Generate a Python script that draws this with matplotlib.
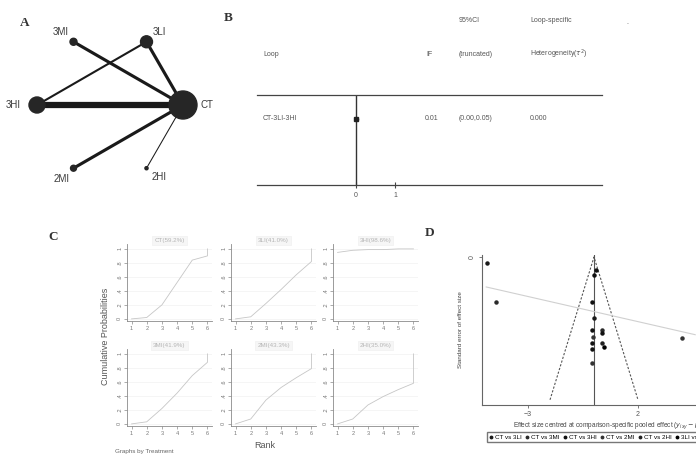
import numpy as np
import matplotlib
matplotlib.use("Agg")
import matplotlib.pyplot as plt
from matplotlib.patches import Circle

plt.rcParams['font.family'] = ['Liberation Sans', 'DejaVu Sans']

W, H = 696, 455

# ---- A: treatment network ----
nodes = ['CT', '3LI', '3MI', '3HI', '2MI', '2HI']
node_n = [400, 73, 25, 131, 18, 5]          # participants per arm
edges = [('3HI', 'CT', 6), ('3MI', 'CT', 3), ('3LI', 'CT', 3),
         ('3LI', '3HI', 2), ('2MI', 'CT', 3), ('2HI', 'CT', 1)]  # number of studies

# ---- B: inconsistency loop ----
loop_name = 'CT-3LI-3HI'
loop_if = 0.01
loop_ci = (0.00, 0.05)
loop_tau2 = 0.000

# ---- C: cumulative ranking curves ----
rank_titles = ['CT(59.2%)', '3LI(41.0%)', '3HI(98.6%)',
               '3MI(41.9%)', '2MI(43.3%)', '2HI(35.0%)']
ranks = [1, 2, 3, 4, 5, 6, 6]
cum_prob = [
    [0.00, 0.02, 0.20, 0.52, 0.84, 0.90, 1.00],
    [0.00, 0.03, 0.22, 0.42, 0.63, 0.82, 1.00],
    [0.95, 0.98, 0.99, 0.99, 1.00, 1.00, 1.00],
    [0.00, 0.03, 0.22, 0.44, 0.69, 0.88, 1.00],
    [0.00, 0.07, 0.34, 0.52, 0.66, 0.79, 1.00],
    [0.00, 0.07, 0.27, 0.39, 0.49, 0.58, 1.00],
]

# ---- D: comparison-adjusted funnel plot ----
comparisons = ['CT vs 3LI', 'CT vs 3MI', 'CT vs 3HI', 'CT vs 2MI', 'CT vs 2HI', '3LI vs 3HI']
eff = [-4.88, -4.45, 3.99, 0.09, 0.00, -0.08, 0.01, -0.08, 0.35, 0.35,
       -0.03, -0.08, 0.35, 0.47, -0.08, -0.08]
se = [0.045, 0.32, 0.58, 0.093, 0.129, 0.319, 0.438, 0.521, 0.521, 0.541,
      0.574, 0.612, 0.616, 0.641, 0.659, 0.759]
grp = [0, 1, 3, 2, 2, 2, 0, 2, 1, 2, 3, 2, 4, 5, 2, 3]
se_max = 1.02
fit_x = [-4.9, 4.6]
fit_se = [0.214, 0.555]


def box(x0, y0, x1, y1):
    return [x0 / W, 1 - y1 / H, (x1 - x0) / W, (y1 - y0) / H]


def ftext(x, y, s, **kw):
    fig.text(x / W, 1 - y / H, s, **kw)


fig = plt.figure(figsize=(W / 100, H / 100), dpi=100)
letter = dict(family='Liberation Serif', weight='bold', fontsize=9.5,
              color='#333333', va='center', ha='left')

# ================= A =================
ftext(20, 23, 'A', **letter)
axA = fig.add_axes(box(0, 0, 220, 210))
axA.set_xlim(0, 220)
axA.set_ylim(210, 0)
axA.axis('off')
cx, cy, r = 110, 105, 73
pos = {}
for k, name in enumerate(nodes):
    a = np.deg2rad(60 * k)
    pos[name] = (cx + r * np.cos(a), cy - r * np.sin(a))
for a_, b_, k in edges:
    (x0, y0), (x1, y1) = pos[a_], pos[b_]
    axA.plot([x0, x1], [y0, y1], color='#1a1a1a', lw=0.75 * k,
             solid_capstyle='butt', zorder=1)
n_max = max(node_n)
for name, n in zip(nodes, node_n):
    rad = 14 * np.sqrt(n / n_max)
    axA.add_patch(Circle(pos[name], rad, color='#262626', zorder=2))
lab_off = {'CT': (24, 0), '3LI': (13, -10), '3MI': (-13, -10),
           '3HI': (-24, 0), '2MI': (-12, 11), '2HI': (13, 9)}
for name in nodes:
    dx, dy = lab_off[name]
    x, y = pos[name]
    axA.text(x + dx, y + dy, name, fontsize=7, color='#3a3a3a',
             ha='center', va='center')

# ================= B =================
ftext(224, 18, 'B', **letter)
tB = dict(fontsize=5, color='#555555', va='center', ha='left')
ftext(459, 21, '95%CI', **tB)
ftext(530, 21, 'Loop-specific', **tB)
ftext(626, 22, '.', **tB)
ftext(263, 54, 'Loop', **tB)
ftext(426, 54, 'IF', **tB)
ftext(459, 54, '(truncated)', **tB)
ftext(530, 54, r'Heterogeneity($\tau^2$)', **tB)
ftext(263, 119, loop_name, **tB)
ftext(425, 119, f'{loop_if:.2f}', **tB)
ftext(459, 119, f'({loop_ci[0]:.2f},{loop_ci[1]:.2f})', **tB)
ftext(530, 119, f'{loop_tau2:.3f}', **tB)

axB = fig.add_axes(box(257, 95, 602, 185))
xmin = -99 / 39
axB.set_xlim(xmin, xmin + 345 / 39)
axB.set_ylim(0, 1)
for s in ['left', 'right']:
    axB.spines[s].set_visible(False)
for s in ['top', 'bottom']:
    axB.spines[s].set_color('#444444')
    axB.spines[s].set_linewidth(0.9)
axB.axvline(0, color='#333333', lw=1.0)
row_y = 1 - 24 / 90
axB.plot([loop_ci[0], loop_ci[1]], [row_y, row_y], color='#222222', lw=1)
axB.plot(loop_if, row_y, 's', color='#222222', ms=2.5)
axB.set_xticks([0, 1])
axB.set_yticks([])
axB.tick_params(axis='x', direction='inout', length=4, width=0.8,
                color='#444444', labelsize=5, labelcolor='#555555', pad=3)

# ================= C =================
ftext(48, 237, 'C', **letter)
col_x = [127, 231, 333]
row_y0 = [244, 349]
for i, (title, cp) in enumerate(zip(rank_titles, cum_prob)):
    x0 = col_x[i % 3]
    y0 = row_y0[i // 3]
    ax = fig.add_axes(box(x0, y0, x0 + 85, y0 + 77))
    ax.plot(ranks, cp, color='#c6c6c6', lw=0.6)
    ax.set_xlim(0.7, 6.3)
    ax.set_ylim(-0.03, 1.07)
    ax.set_xticks(range(1, 7))
    ax.set_yticks([0, 0.2, 0.4, 0.6, 0.8, 1.0])
    ax.set_yticklabels(['0', '.2', '.4', '.6', '.8', '1'], rotation=90, va='center')
    ax.yaxis.grid(True, color='#f2f2f2', lw=0.5)
    for s in ['top', 'right']:
        ax.spines[s].set_visible(False)
    for s in ['left', 'bottom']:
        ax.spines[s].set_color('#8a8a8a')
        ax.spines[s].set_linewidth(0.6)
    ax.tick_params(length=2, width=0.5, color='#8a8a8a', labelsize=4,
                   labelcolor='#777777', pad=1.5)
    ax.set_title(title, fontsize=4.5, color='#b5b5b5', pad=1.5,
                 bbox=dict(facecolor='#f6f6f6', edgecolor='#eeeeee', lw=0.4,
                           boxstyle='square,pad=0.3'))
ftext(106, 336, 'Cumulative Probabilities', fontsize=6.5, color='#555555',
      rotation=90, ha='center', va='center')
ftext(265, 445, 'Rank', fontsize=6.5, color='#555555', ha='center', va='center')
ftext(115, 452, 'Graphs by Treatment', fontsize=4.5, color='#666666',
      ha='left', va='center')

# ================= D =================
ftext(425, 233, 'D', **letter)
axD = fig.add_axes(box(482, 255, 740, 405))
xmin = -112 / 22
axD.set_xlim(xmin, xmin + 258 / 22)
axD.set_ylim(148 / 140, -2 / 140)
for s in ['top', 'right']:
    axD.spines[s].set_visible(False)
for s in ['left', 'bottom']:
    axD.spines[s].set_color('#666666')
    axD.spines[s].set_linewidth(0.8)
axD.axvline(0, color='#555555', lw=0.8, zorder=1)
axD.plot([-1.96 * se_max, 0, 1.96 * se_max], [se_max, 0, se_max],
         color='#555555', lw=0.8, ls=(0, (2, 1.5)), zorder=1)
axD.plot(fit_x, fit_se, color='#d0d0d0', lw=0.8, zorder=1)
eff_a, se_a, grp_a = np.array(eff), np.array(se), np.array(grp)
dark = ['#1a1a1a', '#2a2a2a', '#111111', '#333333', '#222222', '#000000']
for g, name in enumerate(comparisons):
    m = grp_a == g
    axD.plot(eff_a[m], se_a[m], 'o', color=dark[g], ms=2.2, label=name,
             ls='none', zorder=3)
axD.set_xticks([-3, 2])
axD.set_yticks([0])
axD.set_yticklabels(['0'], rotation=90, va='center')
axD.tick_params(length=2.5, width=0.6, color='#666666', labelsize=5,
                labelcolor='#555555', pad=2)
axD.set_xlabel(r'Effect size centred at comparison-specific pooled effect ($y_{ixy}-\mu_{xy}$)',
               fontsize=4.7, color='#444444', labelpad=2)
axD.set_ylabel('Standard error of effect size', fontsize=4.5, color='#444444',
               labelpad=4)
axD.legend(loc='upper left', bbox_to_anchor=(484 / W, 1 - 429 / H),
           bbox_transform=fig.transFigure, ncol=6, fontsize=4.5,
           frameon=True, fancybox=False, edgecolor='#555555',
           handlelength=0.6, handletextpad=0.3, columnspacing=0.6,
           borderpad=0.35, markerscale=0.8)

fig.savefig('out.png', dpi=100, facecolor='white')
